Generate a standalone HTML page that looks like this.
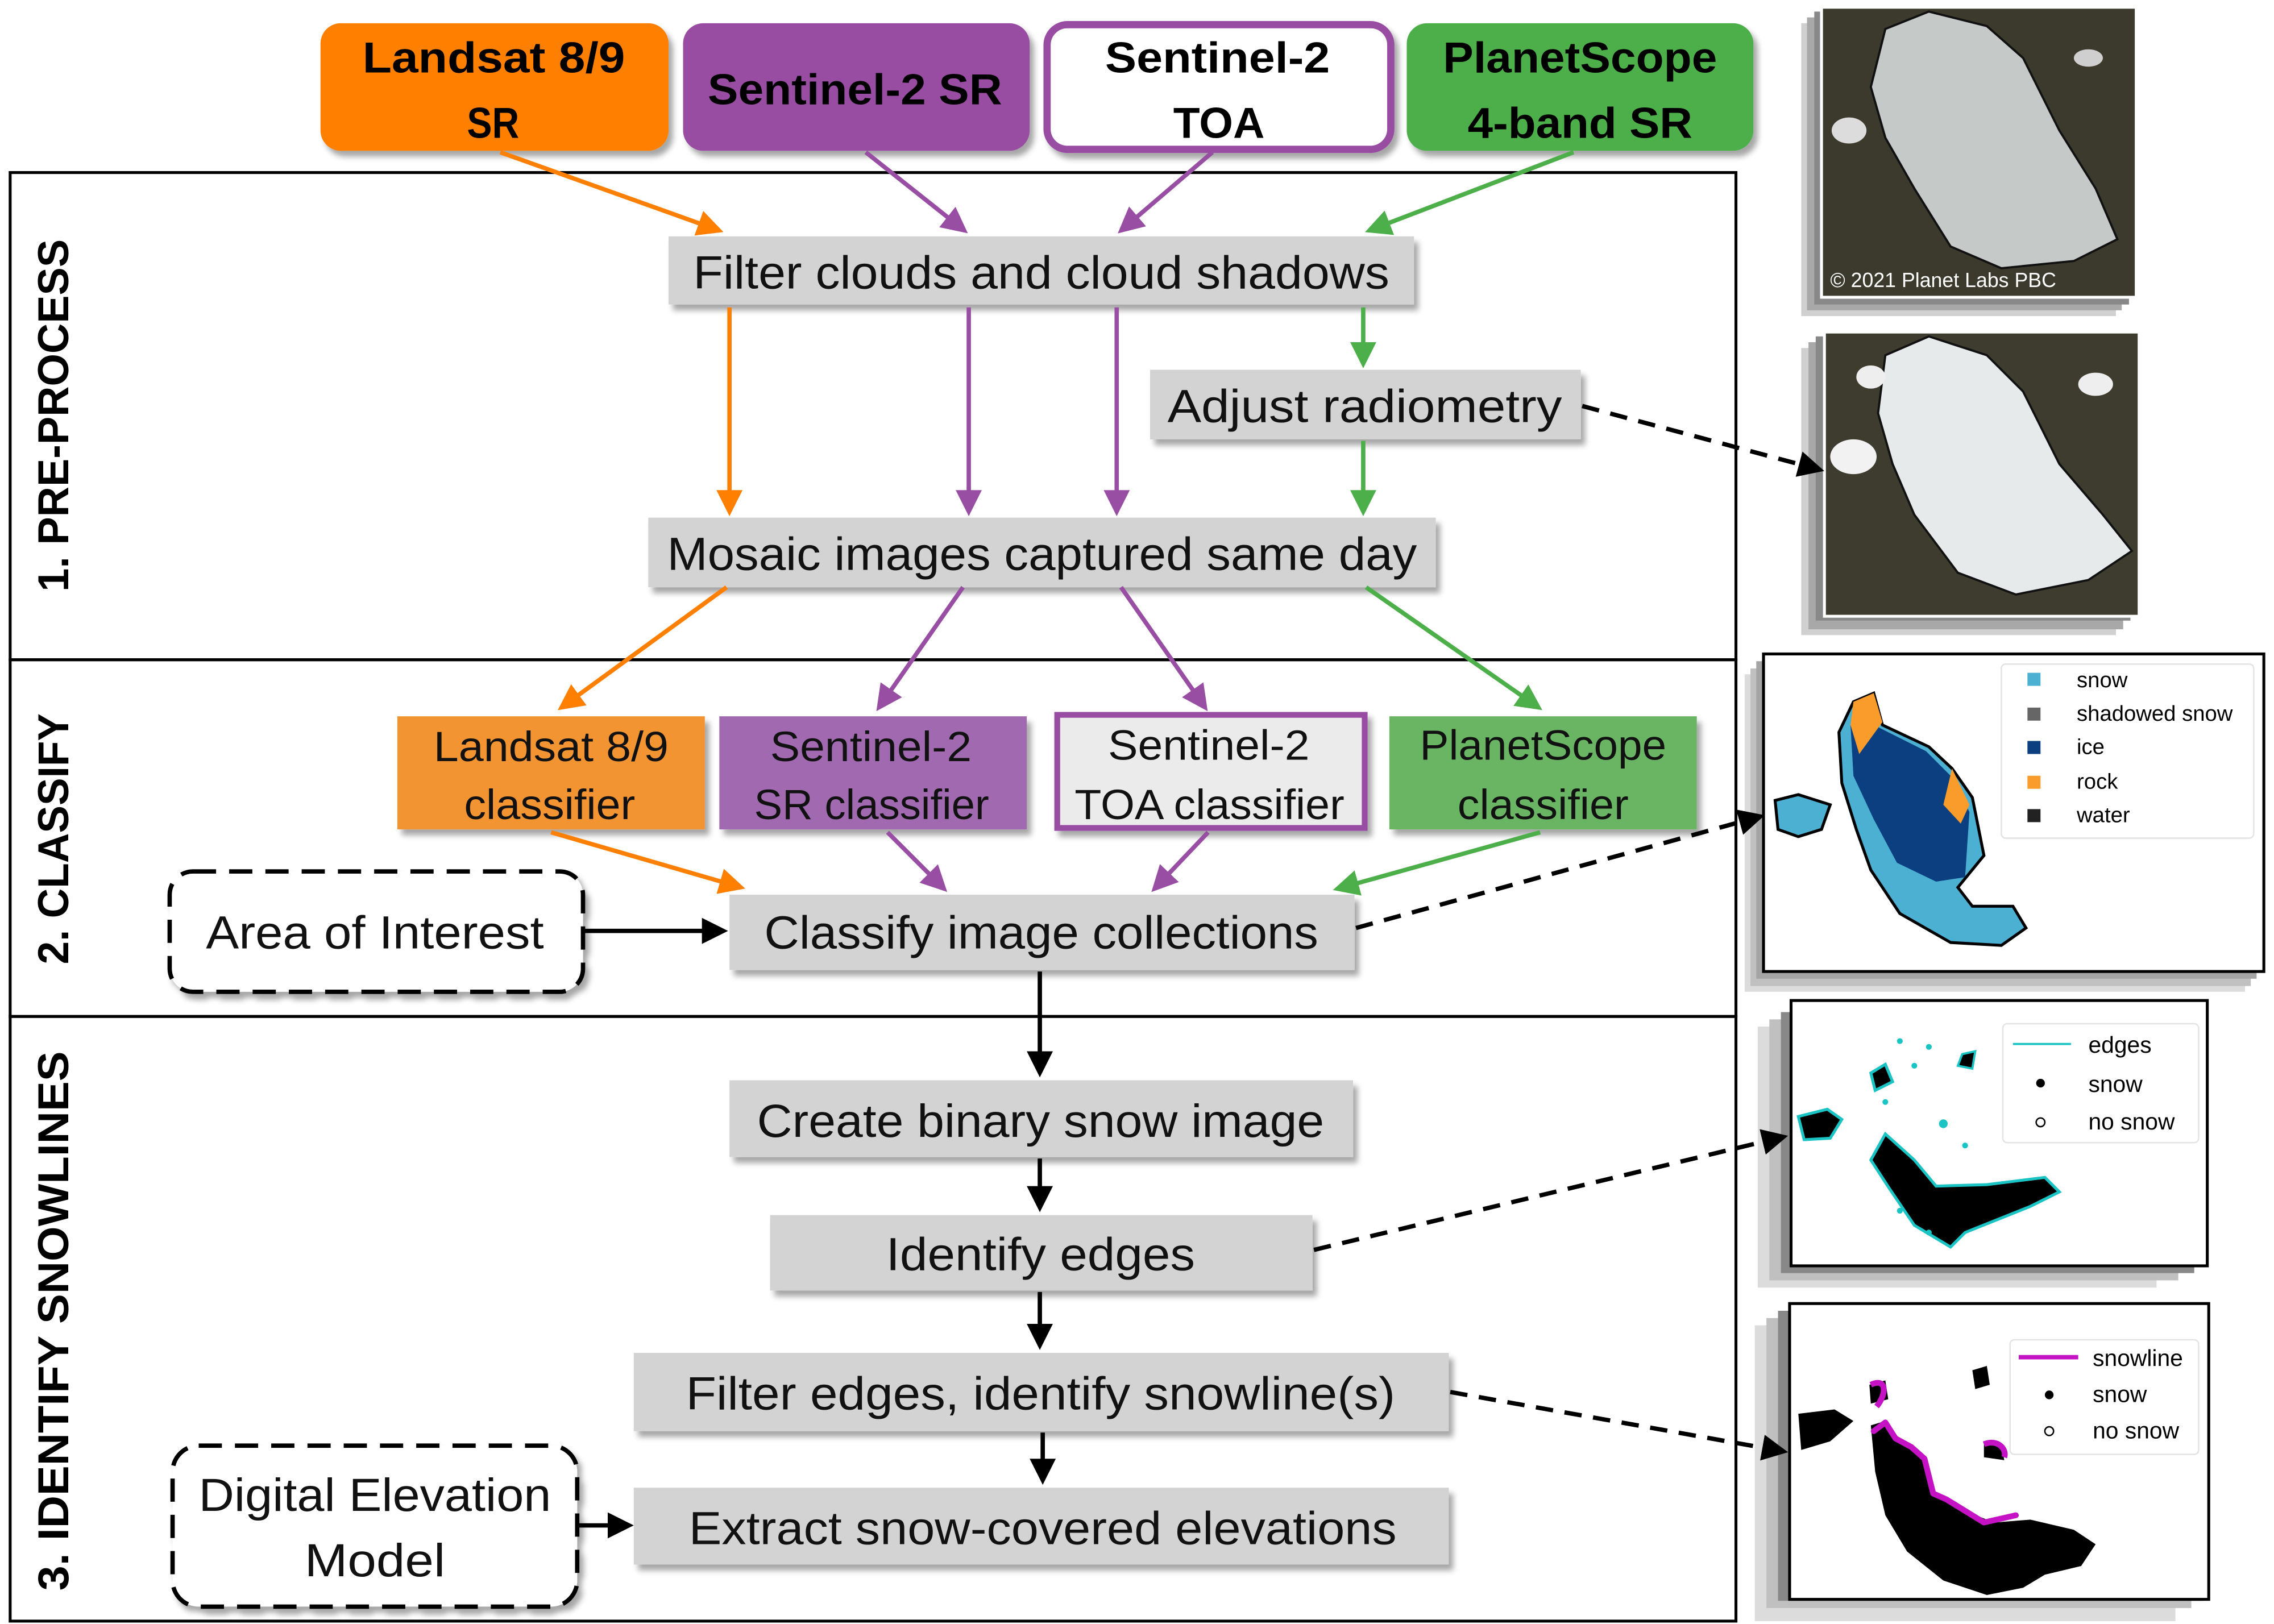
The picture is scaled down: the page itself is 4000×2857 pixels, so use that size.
<!DOCTYPE html>
<html><head><meta charset="utf-8"><style>
html,body{margin:0;padding:0;background:#fff;}
svg{display:block;}
text{font-family:"Liberation Sans",sans-serif;}
</style></head><body>
<svg width="4000" height="2857" viewBox="0 0 1568 1120" preserveAspectRatio="none" xmlns="http://www.w3.org/2000/svg">
<defs>
<filter id="sh" x="-10%" y="-10%" width="130%" height="140%"><feDropShadow dx="3" dy="4" stdDeviation="2" flood-color="#000" flood-opacity="0.35"/></filter>
<marker id="mo" markerWidth="6" markerHeight="6" refX="5" refY="3" orient="auto" markerUnits="strokeWidth"><path d="M0,0 L6,3 L0,6 z" fill="#FF7F00"/></marker>
<marker id="mp" markerWidth="6" markerHeight="6" refX="5" refY="3" orient="auto" markerUnits="strokeWidth"><path d="M0,0 L6,3 L0,6 z" fill="#984EA3"/></marker>
<marker id="mg" markerWidth="6" markerHeight="6" refX="5" refY="3" orient="auto" markerUnits="strokeWidth"><path d="M0,0 L6,3 L0,6 z" fill="#4DAF4A"/></marker>
<marker id="mk" markerWidth="6" markerHeight="6" refX="5" refY="3" orient="auto" markerUnits="strokeWidth"><path d="M0,0 L6,3 L0,6 z" fill="#000"/></marker>
</defs>

<!-- section frames -->
<rect x="7" y="119" width="1190" height="336" fill="none" stroke="#000" stroke-width="2"/>
<rect x="7" y="455" width="1190" height="246" fill="none" stroke="#000" stroke-width="2"/>
<rect x="7" y="701" width="1190" height="417" fill="none" stroke="#000" stroke-width="2"/>
<text transform="translate(47,408) rotate(-90)" font-size="30" font-weight="bold" textLength="243" lengthAdjust="spacingAndGlyphs">1. PRE-PROCESS</text>
<text transform="translate(47,665) rotate(-90)" font-size="30" font-weight="bold" textLength="173" lengthAdjust="spacingAndGlyphs">2. CLASSIFY</text>
<text transform="translate(47,1097) rotate(-90)" font-size="30" font-weight="bold" textLength="372" lengthAdjust="spacingAndGlyphs">3. IDENTIFY SNOWLINES</text>

<!-- top source boxes -->
<g filter="url(#sh)">
<rect x="221" y="16" width="240" height="88" rx="14" fill="#FF7F00"/>
<rect x="471" y="16" width="239" height="88" rx="14" fill="#984EA3"/>
<rect x="722" y="17" width="237" height="86" rx="14" fill="#fff" stroke="#984EA3" stroke-width="5"/>
<rect x="970" y="16" width="239" height="88" rx="14" fill="#4DAF4A"/>
</g>
<g font-size="30" font-weight="bold" fill="#000">
<text x="250" y="50" textLength="181" lengthAdjust="spacingAndGlyphs">Landsat 8/9</text>
<text x="322" y="95" textLength="36" lengthAdjust="spacingAndGlyphs">SR</text>
<text x="488" y="72" textLength="203" lengthAdjust="spacingAndGlyphs">Sentinel-2 SR</text>
<text x="762" y="50" textLength="155" lengthAdjust="spacingAndGlyphs">Sentinel-2</text>
<text x="809" y="95" textLength="63" lengthAdjust="spacingAndGlyphs">TOA</text>
<text x="995" y="50" textLength="189" lengthAdjust="spacingAndGlyphs">PlanetScope</text>
<text x="1012" y="95" textLength="155" lengthAdjust="spacingAndGlyphs">4-band SR</text>
</g>

<!-- gray process boxes -->
<g filter="url(#sh)" fill="#D3D3D3">
<rect x="461" y="163" width="514" height="47"/>
<rect x="793" y="255" width="297" height="48"/>
<rect x="447" y="357" width="543" height="48"/>
<rect x="503" y="617" width="431" height="52"/>
<rect x="503" y="745" width="430" height="53"/>
<rect x="531" y="838" width="374" height="52"/>
<rect x="437" y="933" width="562" height="54"/>
<rect x="437" y="1026" width="562" height="53"/>
</g>
<g filter="url(#sh)">
<rect x="274" y="494" width="212" height="78" fill="#F39433"/>
<rect x="496" y="494" width="212" height="78" fill="#A16BB0"/>
<rect x="729" y="493" width="212" height="78" fill="#EBEBEB" stroke="#984EA3" stroke-width="4"/>
<rect x="958" y="494" width="212" height="78" fill="#6BB564"/>
<rect x="117" y="601" width="285" height="83" rx="16" fill="#fff" stroke="#000" stroke-width="3" stroke-dasharray="16,9"/>
<rect x="119" y="997" width="279" height="111" rx="18" fill="#fff" stroke="#000" stroke-width="3" stroke-dasharray="16,9"/>
</g>
<g font-size="32" fill="#111">
<text x="478" y="199" textLength="480" lengthAdjust="spacingAndGlyphs">Filter clouds and cloud shadows</text>
<text x="805" y="291" textLength="272" lengthAdjust="spacingAndGlyphs">Adjust radiometry</text>
<text x="460" y="393" textLength="517" lengthAdjust="spacingAndGlyphs">Mosaic images captured same day</text>
<text x="142" y="654" textLength="233" lengthAdjust="spacingAndGlyphs">Area of Interest</text>
<text x="527" y="654" textLength="382" lengthAdjust="spacingAndGlyphs">Classify image collections</text>
<text x="522" y="784" textLength="391" lengthAdjust="spacingAndGlyphs">Create binary snow image</text>
<text x="611" y="876" textLength="213" lengthAdjust="spacingAndGlyphs">Identify edges</text>
<text x="473" y="972" textLength="489" lengthAdjust="spacingAndGlyphs">Filter edges, identify snowline(s)</text>
<text x="475" y="1065" textLength="488" lengthAdjust="spacingAndGlyphs">Extract snow-covered elevations</text>
<text x="137" y="1042" textLength="243" lengthAdjust="spacingAndGlyphs">Digital Elevation</text>
<text x="210" y="1087" textLength="97" lengthAdjust="spacingAndGlyphs">Model</text>
</g>
<g font-size="29" fill="#111">
<text x="299" y="525" textLength="162" lengthAdjust="spacingAndGlyphs">Landsat 8/9</text>
<text x="320" y="565" textLength="118" lengthAdjust="spacingAndGlyphs">classifier</text>
<text x="531" y="525" textLength="139" lengthAdjust="spacingAndGlyphs">Sentinel-2</text>
<text x="520" y="565" textLength="162" lengthAdjust="spacingAndGlyphs">SR classifier</text>
<text x="764" y="524" textLength="139" lengthAdjust="spacingAndGlyphs">Sentinel-2</text>
<text x="741" y="565" textLength="186" lengthAdjust="spacingAndGlyphs">TOA classifier</text>
<text x="979" y="524" textLength="170" lengthAdjust="spacingAndGlyphs">PlanetScope</text>
<text x="1005" y="565" textLength="118" lengthAdjust="spacingAndGlyphs">classifier</text>
</g>

<!-- image 1: satellite photo -->
<g>
<rect x="1242" y="16" width="217" height="202" fill="#d0d0d0"/>
<rect x="1246" y="12" width="217" height="202" fill="#a8a8a8"/>
<rect x="1251" y="8" width="217" height="202" fill="#888"/>
<rect x="1256" y="5" width="217" height="200" fill="#3b3a2c" stroke="#fff" stroke-width="2"/>
<path d="M1300,20 L1330,8 L1370,18 L1395,40 L1420,90 L1445,130 L1460,165 L1430,180 L1380,185 L1345,170 L1320,130 L1300,95 L1290,60 Z" fill="#c5c9c8" stroke="#111" stroke-width="1.5"/>
<ellipse cx="1275" cy="90" rx="12" ry="9" fill="#dcdcdc"/>
<ellipse cx="1440" cy="40" rx="10" ry="6" fill="#cfcfcf"/>
<text x="1262" y="198" font-size="14" fill="#fff">© 2021 Planet Labs PBC</text>
</g>
<!-- image 2: adjusted photo -->
<g>
<rect x="1242" y="240" width="217" height="198" fill="#d0d0d0"/>
<rect x="1247" y="236" width="217" height="198" fill="#a8a8a8"/>
<rect x="1252" y="232" width="217" height="196" fill="#888"/>
<rect x="1258" y="229" width="217" height="196" fill="#3d3c2e" stroke="#fff" stroke-width="2"/>
<path d="M1300,245 L1330,232 L1370,245 L1395,270 L1420,320 L1450,355 L1470,380 L1440,400 L1390,410 L1350,395 L1320,355 L1305,320 L1295,285 Z" fill="#e6eaea" stroke="#111" stroke-width="1.5"/>
<ellipse cx="1278" cy="315" rx="16" ry="12" fill="#f2f2f2"/>
<ellipse cx="1290" cy="260" rx="10" ry="8" fill="#eee"/>
<ellipse cx="1445" cy="265" rx="12" ry="8" fill="#eee"/>
</g>
<!-- image 3: classified map -->
<g>
<rect x="1203" y="465" width="345" height="219" fill="#dcdcdc"/>
<rect x="1207" y="461" width="345" height="219" fill="#c0c0c0"/>
<rect x="1211" y="456" width="345" height="219" fill="#a5a5a5"/>
<rect x="1216" y="451" width="345" height="219" fill="#fff" stroke="#000" stroke-width="2"/>
<path d="M1278,484 L1292,478 L1298,500 L1330,515 L1346,530 L1360,550 L1368,590 L1350,612 L1360,625 L1388,625 L1397,640 L1380,652 L1345,650 L1310,630 L1290,600 L1280,572 L1270,540 L1268,505 Z" fill="#4CB0D3" stroke="#000" stroke-width="2"/>
<path d="M1282,490 L1296,502 L1328,518 L1345,535 L1358,560 L1355,605 L1335,608 L1308,595 L1292,565 L1278,535 L1276,500 Z" fill="#0B3F80"/>
<path d="M1278,484 L1292,478 L1298,498 L1282,520 L1276,500 Z" fill="#F99C2B"/>
<path d="M1346,530 L1358,555 L1352,568 L1340,555 Z" fill="#F99C2B"/>
<path d="M1224,552 L1240,548 L1262,555 L1256,572 L1240,577 L1226,572 Z" fill="#4CB0D3" stroke="#000" stroke-width="2"/>
<rect x="1380" y="458" width="174" height="120" rx="3" fill="#fff" stroke="#e4e4e4"/>
<rect x="1398" y="464" width="9" height="9" fill="#4CB0D3"/><rect x="1398" y="488" width="9" height="9" fill="#666"/><rect x="1398" y="511" width="9" height="9" fill="#0B3F80"/><rect x="1398" y="535" width="9" height="9" fill="#F99C2B"/><rect x="1398" y="558" width="9" height="9" fill="#222"/>
<g font-size="15" fill="#000"><text x="1432" y="474">snow</text><text x="1432" y="497">shadowed snow</text><text x="1432" y="520">ice</text><text x="1432" y="544">rock</text><text x="1432" y="567">water</text></g>
</g>
<!-- image 4: edges -->
<g>
<rect x="1212" y="708" width="275" height="180" fill="#dcdcdc"/>
<rect x="1220" y="703" width="282" height="180" fill="#c0c0c0"/>
<rect x="1228" y="698" width="285" height="180" fill="#888"/>
<rect x="1235" y="690" width="287" height="183" fill="#fff" stroke="#000" stroke-width="2"/>
<path d="M1290,800 L1300,782 L1320,800 L1335,818 L1370,817 L1410,812 L1420,822 L1400,832 L1380,840 L1355,850 L1345,860 L1320,845 L1303,820 Z" fill="#000" stroke="#1BC4C4" stroke-width="2"/>
<path d="M1240,770 L1260,765 L1270,772 L1262,785 L1244,786 Z" fill="#000" stroke="#1BC4C4" stroke-width="2"/>
<path d="M1290,740 L1300,734 L1305,746 L1293,752 Z" fill="#000" stroke="#1BC4C4" stroke-width="2"/>
<path d="M1353,727 L1362,725 L1360,737 L1350,735 Z" fill="#000" stroke="#1BC4C4" stroke-width="1.5"/>
<g fill="#1BC4C4"><circle cx="1310" cy="718" r="2"/><circle cx="1330" cy="722" r="2"/><circle cx="1320" cy="735" r="2"/><circle cx="1300" cy="760" r="2"/><circle cx="1340" cy="775" r="3"/><circle cx="1355" cy="790" r="2"/><circle cx="1310" cy="835" r="2"/><circle cx="1330" cy="850" r="2"/><circle cx="1385" cy="780" r="3"/></g>
<rect x="1381" y="706" width="135" height="82" rx="3" fill="#fff" stroke="#e4e4e4"/>
<line x1="1388" y1="720" x2="1428" y2="720" stroke="#1BC4C4" stroke-width="1.5"/>
<circle cx="1407" cy="747" r="3" fill="#000"/><circle cx="1407" cy="774" r="3" fill="#fff" stroke="#000"/>
<g font-size="16" fill="#000"><text x="1440" y="726">edges</text><text x="1440" y="753">snow</text><text x="1440" y="779">no snow</text></g>
</g>
<!-- image 5: snowline -->
<g>
<rect x="1210" y="914" width="290" height="204" fill="#dcdcdc"/>
<rect x="1218" y="909" width="293" height="200" fill="#c0c0c0"/>
<rect x="1226" y="904" width="293" height="200" fill="#888"/>
<rect x="1234" y="899" width="289" height="204" fill="#fff" stroke="#000" stroke-width="2"/>
<path d="M1290,983 L1300,980 L1312,995 L1328,1008 L1335,1030 L1350,1040 L1375,1050 L1400,1048 L1430,1055 L1445,1065 L1435,1080 L1410,1086 L1395,1095 L1370,1100 L1340,1090 L1315,1070 L1300,1045 L1293,1015 Z" fill="#000"/>
<path d="M1240,975 L1265,972 L1278,980 L1262,994 L1242,1000 Z" fill="#000"/>
<path d="M1289,955 L1300,952 L1302,965 L1290,968 Z" fill="#000"/>
<path d="M1360,945 L1370,942 L1372,955 L1362,958 Z" fill="#000"/>
<path d="M1368,995 L1380,996 L1382,1007 L1368,1005 Z" fill="#000"/>
<polyline points="1292,987 1300,981 1307,992 1318,998 1327,1006 1333,1030 1342,1034 1355,1042 1368,1050 1390,1045" fill="none" stroke="#C512C5" stroke-width="4" stroke-linecap="round" stroke-linejoin="round"/>
<path d="M1290,955 C1300,950 1302,960 1294,970" fill="none" stroke="#C512C5" stroke-width="4"/>
<path d="M1368,996 C1378,992 1384,1000 1382,1005" fill="none" stroke="#C512C5" stroke-width="4"/>
<rect x="1386" y="924" width="130" height="79" rx="3" fill="#fff" stroke="#e4e4e4"/>
<line x1="1392" y1="936" x2="1433" y2="936" stroke="#C512C5" stroke-width="3"/>
<circle cx="1413" cy="962" r="3" fill="#000"/><circle cx="1413" cy="987" r="3" fill="#fff" stroke="#000"/>
<g font-size="16" fill="#000"><text x="1443" y="942">snowline</text><text x="1443" y="967">snow</text><text x="1443" y="992">no snow</text></g>
</g>

<!-- arrows -->
<g stroke="#FF7F00" stroke-width="3" fill="none" marker-end="url(#mo)">
<line x1="345" y1="105" x2="496" y2="159"/><line x1="503" y1="212" x2="503" y2="353"/><line x1="501" y1="405" x2="387" y2="488"/><line x1="380" y1="574" x2="511" y2="612"/>
</g>
<g stroke="#984EA3" stroke-width="3" fill="none" marker-end="url(#mp)">
<line x1="597" y1="105" x2="665" y2="159"/><line x1="668" y1="212" x2="668" y2="353"/><line x1="664" y1="405" x2="606" y2="488"/><line x1="612" y1="574" x2="651" y2="613"/>
<line x1="836" y1="105" x2="773" y2="159"/><line x1="770" y1="212" x2="770" y2="353"/><line x1="773" y1="405" x2="831" y2="488"/><line x1="833" y1="574" x2="796" y2="613"/>
</g>
<g stroke="#4DAF4A" stroke-width="3" fill="none" marker-end="url(#mg)">
<line x1="1085" y1="105" x2="944" y2="159"/><line x1="940" y1="212" x2="940" y2="251"/><line x1="940" y1="304" x2="940" y2="353"/><line x1="942" y1="405" x2="1061" y2="488"/><line x1="1062" y1="574" x2="922" y2="613"/>
</g>
<g stroke="#000" stroke-width="3" fill="none" marker-end="url(#mk)">
<line x1="402" y1="642" x2="499" y2="642"/><line x1="717" y1="670" x2="717" y2="740"/><line x1="717" y1="799" x2="717" y2="833"/><line x1="717" y1="891" x2="717" y2="928"/><line x1="719" y1="988" x2="719" y2="1021"/><line x1="398" y1="1052" x2="434" y2="1052"/>
</g>
<g stroke="#000" stroke-width="3" fill="none" stroke-dasharray="12,8" marker-end="url(#mk)">
<line x1="1091" y1="280" x2="1255" y2="324"/><line x1="935" y1="640" x2="1214" y2="563"/><line x1="906" y1="862" x2="1230" y2="784"/><line x1="1000" y1="960" x2="1230" y2="1001"/>
</g>
</svg>
</body></html>
